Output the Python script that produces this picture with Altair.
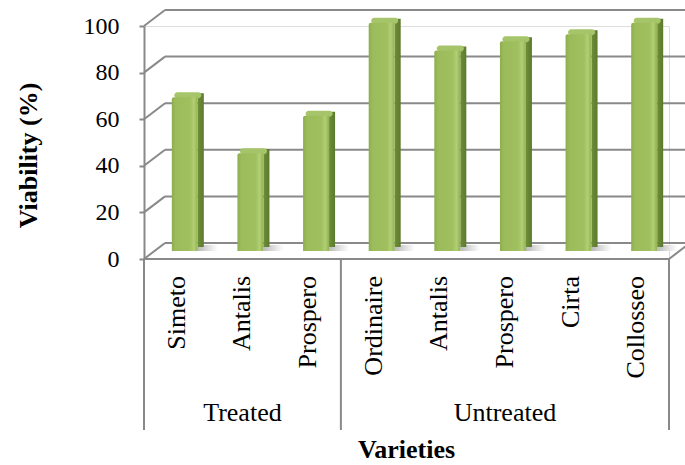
import altair as alt
import pandas as pd

# Viability of seed lots by variety, grouped by treatment
groups = ["Treated", "Treated", "Treated",
          "Untreated", "Untreated", "Untreated", "Untreated", "Untreated"]
varieties = ["Simeto", "Antalis", "Prospero",
             "Ordinaire", "Antalis", "Prospero", "Cirta", "Collosseo"]
viability = [66, 42, 58, 98, 86, 90, 93, 98]
y_ticks = [0, 20, 40, 60, 80, 100]

FONT = "Liberation Serif"
GRID = "#898989"

# depth of the pseudo-3D box, in pixels
DEPTH_X = 21
DEPTH_Y = -16

bars = pd.DataFrame({"group": groups, "variety": varieties, "viability": viability})
bars["slot"] = range(len(bars))
bars["center"] = bars["slot"] + 0.5
bars["base"] = 0
n = len(bars)

spans = bars.groupby("group", sort=False)["slot"].agg(["min", "max"]).reset_index()
spans["start"] = spans["min"]
spans["end"] = spans["max"] + 1
spans["mid"] = (spans["start"] + spans["end"]) / 2
spans["base"] = 0

edges = pd.DataFrame({"edge": sorted(set(spans["start"]) | set(spans["end"]))})
edges["base"] = 0

grid = pd.DataFrame({"tick": y_ticks})
grid["left"] = 0
grid["right"] = n

floor = pd.DataFrame({"left": [0], "right": [n], "base": [0], "mid": [n / 2]})

x_scale = alt.Scale(domain=[0, n], nice=False, zero=False, padding=0)
y_scale = alt.Scale(domain=[0, 100], nice=False, padding=0)

y_axis = alt.Axis(
    values=y_ticks, grid=False,
    domainColor=GRID, domainWidth=2, tickColor=GRID, tickWidth=2, tickSize=5,
    labelFont=FONT, labelFontSize=24, labelColor="black", labelPadding=20,
    title="Viability (%)", titleFont=FONT, titleFontSize=26,
    titleFontWeight="bold", titleColor="black", titleAngle=270,
    titleAlign="center", titleBaseline="middle", titleX=-116, titleY=129)

X = lambda f: alt.X(f"{f}:Q", scale=x_scale, axis=None)
Y = lambda f: alt.Y(f"{f}:Q", scale=y_scale, axis=y_axis)

# back wall gridlines
back_grid = alt.Chart(grid).mark_rule(
    color=GRID, strokeWidth=2, xOffset=DEPTH_X, x2Offset=DEPTH_X,
    yOffset=DEPTH_Y, y2Offset=DEPTH_Y
).encode(x=X("left"), x2="right:Q", y=Y("tick"))

# side wall: diagonals from each front tick to the back wall
side_grid = alt.Chart(grid).mark_rule(
    color=GRID, strokeWidth=2, x2Offset=DEPTH_X, y2Offset=DEPTH_Y
).encode(x=X("left"), x2="left:Q", y=Y("tick"), y2="tick:Q")

# floor front edge and right diagonal
floor_front = alt.Chart(floor).mark_rule(color=GRID, strokeWidth=2).encode(
    x=X("left"), x2="right:Q", y=Y("base"))
floor_right = alt.Chart(floor).mark_rule(
    color=GRID, strokeWidth=2, x2Offset=DEPTH_X, y2Offset=DEPTH_Y
).encode(x=X("right"), x2="right:Q", y=Y("base"), y2="base:Q")

# soft shadows cast on the floor behind each column
shadow = alt.Chart(bars).mark_bar(
    width=20, xOffset=31, yOffset=-14, y2Offset=-8,
    color=alt.Gradient(gradient="linear", x1=0, x2=1, y1=0, y2=0,
                       stops=[alt.GradientStop(color="#b9b9b9", offset=0),
                              alt.GradientStop(color="#ffffff", offset=1)])
).encode(x=X("center"), y=Y("base"), y2="base:Q")

side_face = alt.Chart(bars).mark_bar(
    width=6, xOffset=24, yOffset=-12, y2Offset=-12,
    color=alt.Gradient(gradient="linear", x1=0, x2=1, y1=0, y2=0,
                       stops=[alt.GradientStop(color="#6e8e38", offset=0),
                              alt.GradientStop(color="#5c7a2d", offset=1)])
).encode(x=X("center"), y=Y("viability"), y2="base:Q")

cap = alt.Chart(bars).mark_bar(
    width=27, xOffset=11, yOffset=-13, y2Offset=-7, cornerRadius=3,
    color="#a6c56a"
).encode(x=X("center"), y=Y("viability"), y2="viability:Q")

front_face = alt.Chart(bars).mark_bar(
    width=26, xOffset=8, yOffset=-8, y2Offset=-8,
    cornerRadiusTopLeft=2, cornerRadiusTopRight=1,
    color=alt.Gradient(gradient="linear", x1=0, x2=1, y1=0, y2=0,
                       stops=[alt.GradientStop(color="#8eae4e", offset=0),
                              alt.GradientStop(color="#9cbc5b", offset=0.15),
                              alt.GradientStop(color="#a0bf5f", offset=0.7),
                              alt.GradientStop(color="#b1cf74", offset=0.85),
                              alt.GradientStop(color="#91b151", offset=1)])
).encode(x=X("center"), y=Y("viability"), y2="base:Q")

# category axis: variety names, group separators and group names
variety_labels = alt.Chart(bars).mark_text(
    angle=270, align="right", baseline="middle", yOffset=17,
    font=FONT, fontSize=26, color="black"
).encode(x=X("center"), y=Y("base"), text="variety:N")

separators = alt.Chart(edges).mark_rule(
    color=GRID, strokeWidth=2, y2Offset=171
).encode(x=X("edge"), y=Y("base"), y2="base:Q")

group_labels = alt.Chart(spans).mark_text(
    baseline="middle", yOffset=154, font=FONT, fontSize=26, color="black"
).encode(x=X("mid"), y=Y("base"), text="group:N")

x_title = alt.Chart(floor).mark_text(
    text="Varieties", baseline="middle", yOffset=191,
    font=FONT, fontSize=26, fontWeight="bold", color="black"
).encode(x=X("mid"), y=Y("base"))

chart = alt.layer(
    back_grid, side_grid, floor_front, floor_right, shadow,
    side_face, cap, front_face,
    variety_labels, separators, group_labels, x_title,
).properties(
    width=525, height=233,
    autosize=alt.AutoSizeParams(type="none"),
    padding={"left": 144, "top": 26, "right": 16, "bottom": 206},
).configure_view(stroke=None).configure(background="white")

chart.save("out.html", embed_options={"renderer": "svg", "actions": False})
